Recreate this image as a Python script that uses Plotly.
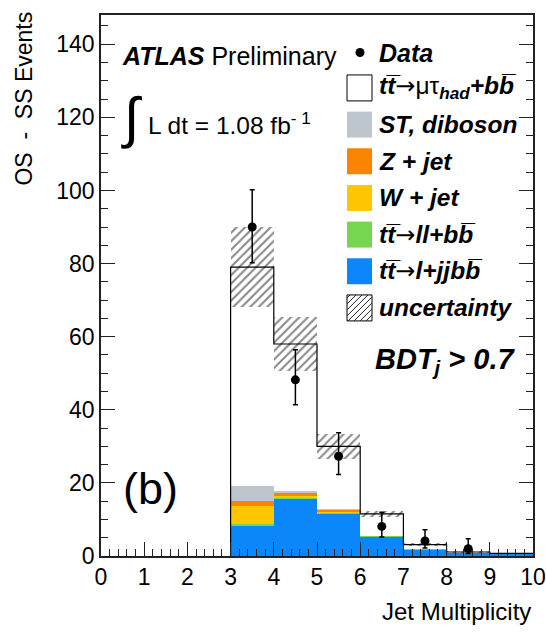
import plotly.graph_objects as go

# ---------------- data ----------------
bin_edges = [0, 1, 2, 3, 4, 5, 6, 7, 8, 9, 10]
bin_centers = [0.5, 1.5, 2.5, 3.5, 4.5, 5.5, 6.5, 7.5, 8.5, 9.5]

tt_ljjbb = [0, 0, 0, 8.4, 15.5, 11.5, 5.4, 1.8, 0.9, 0.6]      # blue
tt_llbb = [0, 0, 0, 0.3, 0.6, 0.4, 0.1, 0.05, 0, 0]            # green
w_jet = [0, 0, 0, 5.0, 0.2, 0.3, 0, 0, 0, 0]                   # yellow
z_jet = [0, 0, 0, 1.3, 1.0, 0.4, 0, 0, 0, 0]                   # orange
st_diboson = [0, 0, 0, 4.2, 0.5, 0.3, 0.1, 0, 0, 0]            # grey
tt_mutau = [0, 0, 0, 59.8, 40.2, 17.1, 5.9, 1.25, 0.2, 0.1]    # white signal
syst_unc = [0, 0, 0, 11.0, 7.5, 3.4, 0.8, 0.4, 0.15, 0.1]

data_x = [3.5, 4.5, 5.5, 6.5, 7.5, 8.5]
data_y = [90, 48.2, 27.3, 8.1, 4.1, 2.0]
data_err_up = [10.2, 8.2, 6.4, 3.9, 3.1, 2.7]
data_err_dn = [9.8, 6.8, 5.0, 2.9, 1.9, 1.3]

y_ticks = [0, 20, 40, 60, 80, 100, 120, 140]
x_ticks = [0, 1, 2, 3, 4, 5, 6, 7, 8, 9, 10]

stack = [
    ("tt→l+jjbb", tt_ljjbb, "#0b86fb"),
    ("tt→ll+bb", tt_llbb, "#76d64f"),
    ("W + jet", w_jet, "#fdc600"),
    ("Z + jet", z_jet, "#fb8500"),
    ("ST, diboson", st_diboson, "#bdc5cd"),
    ("tt→μτhad+bb", tt_mutau, "#ffffff"),
]

FONT = "Liberation Sans, Arial, Helvetica, sans-serif"

# ---------------- geometry (pixels) ----------------
W, H = 546, 632
L, R, T, B = 101, 533, 15, 556.5


def fx(px):
    return (px - L) / (R - L)


def fy(py):
    return (B - py) / (B - T)


fig = go.Figure()

base = [0.0] * len(bin_centers)
for name, vals, col in stack:
    fig.add_trace(go.Bar(
        x=bin_centers, y=vals, base=list(base), width=1.0, name=name,
        marker=dict(color=col, line=dict(width=0)), showlegend=False,
    ))
    base = [b + v for b, v in zip(base, vals)]
total = base

# uncertainty hatched band
fig.add_trace(go.Bar(
    x=bin_centers, y=[2 * u for u in syst_unc],
    base=[t - u for t, u in zip(total, syst_unc)], width=1.0,
    marker=dict(color="rgba(0,0,0,0)", line=dict(width=0),
                pattern=dict(shape="/", fgcolor="#111", bgcolor="rgba(0,0,0,0)",
                             size=6, solidity=0.35, fillmode="overlay")),
    showlegend=False, name="uncertainty",
))

# outline of total MC (step line)
first = 3
step_x = [bin_edges[first]] + bin_edges[first:]
step_y = [0] + total[first:] + [total[-1]]
fig.add_trace(go.Scatter(
    x=step_x, y=step_y, mode="lines", line=dict(color="black", width=1.2, shape="hv"),
    showlegend=False, hoverinfo="skip",
))

# data
fig.add_trace(go.Scatter(
    x=data_x, y=data_y, mode="markers", name="Data",
    marker=dict(color="black", size=9),
    error_y=dict(type="data", array=data_err_up, arrayminus=data_err_dn,
                 color="black", thickness=1.5, width=2.5),
    showlegend=False,
))

# ---------------- text ----------------
ann = []


def text(px, py, s, size, xanchor="left", yanchor="middle", **kw):
    ann.append(dict(x=fx(px), y=fy(py), xref="paper", yref="paper", text=s,
                    showarrow=False, xanchor=xanchor, yanchor=yanchor,
                    font=dict(family=FONT, size=size, color="black"), **kw))


text(120, 56, "<b><i>ATLAS</i></b> Preliminary", 25)
text(119, 118, "∫", 56)
text(146, 124, "L dt = 1.08 fb<sup>- 1</sup>", 24.5)
text(373, 361, "<b><i>BDT<sub>j</sub> &gt; 0.7</i></b>", 29)
text(121, 489, "(b)", 45)

# legend
text(377, 53, "<b><i>Data</i></b>", 25)
shapes = []
shapes.append(dict(type="circle", xref="paper", yref="paper",
                   x0=fx(355.5), x1=fx(364.5), y0=fy(57), y1=fy(48),
                   fillcolor="black", line=dict(width=0)))

ARROW = ('<span style="font-family:\'DejaVu Sans\';font-size:24px;'
         'font-weight:normal;font-style:normal">→</span>')
leg_rows = [
    ("<b><i>tt\u0305</i></b>" + ARROW + "μτ<sub><b><i>had</i></b></sub><b><i>+bb\u0305</i></b>", "#ffffff", True),
    ("<b><i>ST, diboson</i></b>", "#bdc5cd", False),
    ("<b><i>Z + jet</i></b>", "#fb8500", False),
    ("<b><i>W + jet</i></b>", "#fdc600", False),
    ("<b><i>tt\u0305</i></b>" + ARROW + "<b><i>ll+bb\u0305</i></b>", "#76d64f", False),
    ("<b><i>tt\u0305</i></b>" + ARROW + "<b><i>l+jjbb\u0305</i></b>", "#0b86fb", False),
    ("<b><i>uncertainty</i></b>", None, True),
]
row_top = 75
row_h = 36.7
box_w = 25
bx0 = 347
for i, (lab, col, border) in enumerate(leg_rows):
    y0 = row_top + i * row_h
    y1 = y0 + 26
    shapes.append(dict(type="rect", xref="paper", yref="paper",
                       x0=fx(bx0), x1=fx(bx0 + box_w), y0=fy(y1), y1=fy(y0),
                       fillcolor=col if col else "rgba(0,0,0,0)",
                       line=dict(color="black" if border else col, width=1 if border else 0)))
    if col is None:
        # hatch lines inside the box
        s = box_w
        hgt = 26
        c = -s
        while c < s:
            xa = max(0, -c)
            xb = min(s, hgt - c)
            if xb > xa:
                ya, yb = xa + c, xb + c
                shapes.append(dict(type="line", xref="paper", yref="paper",
                                   x0=fx(bx0 + xa), x1=fx(bx0 + xb),
                                   y0=fy(y1 - ya), y1=fy(y1 - yb),
                                   line=dict(color="#222", width=1)))
            c += 6
    text(377, (y0 + y1) / 2, lab, 24.5)

# axis titles as annotations for exact placement
text(533, 612, "Jet Multiplicity", 24, xanchor="right")
ann.append(dict(x=fx(24), y=1.01, xref="paper", yref="paper", text="OS  -  SS Events",
                showarrow=False, xanchor="center", yanchor="top", textangle=-90,
                font=dict(family=FONT, size=23, color="black")))

fig.update_layout(
    width=W, height=H,
    margin=dict(l=L, r=W - R, t=T, b=H - B, autoexpand=False),
    paper_bgcolor="white", plot_bgcolor="white",
    barmode="overlay", bargap=0,
    showlegend=False,
    annotations=ann, shapes=shapes,
    font=dict(family=FONT, color="black"),
)

fig.update_xaxes(
    range=[0, 10], tickvals=x_ticks, ticktext=[str(v) for v in x_ticks],
    ticks="inside", ticklen=14, tickwidth=1, tickcolor="#222",
    minor=dict(dtick=0.2, ticks="inside", ticklen=7, tickcolor="#222", tickwidth=1),
    showline=True, linecolor="#222", linewidth=1.5, mirror=True,
    showgrid=False, zeroline=False, automargin=False,
    tickfont=dict(family=FONT, size=23, color="black"),
)
fig.update_yaxes(
    range=[0, 148], tickvals=y_ticks, ticktext=[str(v) for v in y_ticks],
    ticks="inside", ticklen=14, tickwidth=1, tickcolor="#222",
    minor=dict(dtick=5, ticks="inside", ticklen=7, tickcolor="#222", tickwidth=1),
    showline=True, linecolor="#222", linewidth=1.5, mirror="ticks",
    showgrid=False, zeroline=False, automargin=False,
    tickfont=dict(family=FONT, size=23, color="black"),
)

fig.write_html("out.html")
